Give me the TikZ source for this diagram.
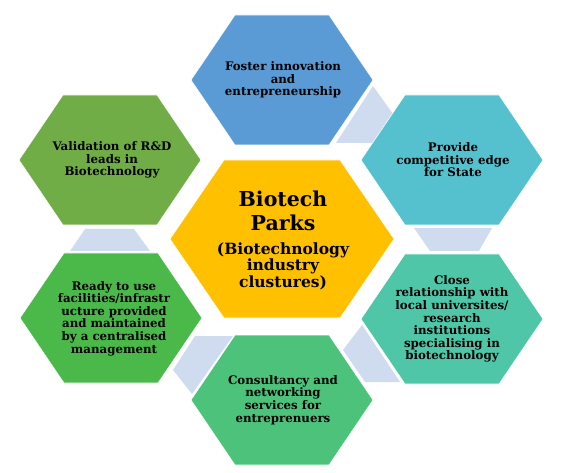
\documentclass[tikz,border=0pt]{standalone}
\usepackage{fontspec}
\setmainfont{DejaVu Serif}
\definecolor{cFoster}{HTML}{5B9BD5}
\definecolor{cProvide}{HTML}{56C1CE}
\definecolor{cClose}{HTML}{4FC6A7}
\definecolor{cConsult}{HTML}{4CC27A}
\definecolor{cReady}{HTML}{4AB94A}
\definecolor{cValid}{HTML}{70AD47}
\definecolor{cCenter}{HTML}{FFC000}
\definecolor{cLink}{HTML}{CFDBEE}
\begin{document}
\begin{tikzpicture}[x=1pt,y=-1pt,
  linkfill/.style={fill=cLink},
  hextext/.style={align=center,font=\fontsize{11.8}{12.6}\selectfont\bfseries,inner sep=0pt},
  titletext/.style={align=center,font=\fontsize{20.5}{24}\selectfont\bfseries,inner sep=0pt},
  subtext/.style={align=center,font=\fontsize{15.5}{16.5}\selectfont\bfseries,inner sep=0pt}]
\useasboundingbox (0,0) rectangle (565,473);
% outer hexagon: half width 91, half top edge 47, half height 65
\newcommand{\outerhex}[3]{%
  \fill[#3] (#1-91,#2) -- (#1-47,#2-65) -- (#1+47,#2-65) -- (#1+91,#2) -- (#1+47,#2+65) -- (#1-47,#2+65) -- cycle;
  \draw[white,line width=0.6pt] (#1-91,#2) -- (#1-47,#2-65) -- (#1+47,#2-65) -- (#1+91,#2) -- (#1+47,#2+65) -- (#1-47,#2+65) -- cycle;}
% connectors
\fill[linkfill] (373,86) -- (393,114) -- (373,143) -- (336,143) -- cycle;
\fill[linkfill] (414,228) -- (492,228) -- (479,251) -- (430,251) -- cycle;
\fill[linkfill] (85,229) -- (134,229) -- (150,251) -- (70,251) -- cycle;
\fill[linkfill] (362,325) -- (400,382) -- (365,382) -- (343,350) -- cycle;
\fill[linkfill] (195,336) -- (233,336) -- (192,394) -- (173,370) -- cycle;
% hexagons
\outerhex{282}{80}{cFoster}
\outerhex{452}{160}{cProvide}
\outerhex{110}{160}{cValid}
\outerhex{111}{318}{cReady}
\outerhex{452}{319}{cClose}
\outerhex{282}{400}{cConsult}
\fill[cCenter] (170,239) -- (224,160) -- (340,160) -- (394,239) -- (340,318) -- (224,318) -- cycle;
\draw[white,line width=0.6pt] (170,239) -- (224,160) -- (340,160) -- (394,239) -- (340,318) -- (224,318) -- cycle;
% texts
\node[hextext] (foster) at (283,80) {Foster innovation\\and\\entrepreneurship};
\node[hextext] (provide) at (453,160) {Provide\\competitive edge\\for State};
\node[hextext] (valid) at (112,160) {Validation of R\&D\\leads in\\Biotechnology};
\node[hextext] (ready) at (114,318.5) {Ready to use\\facilities/infrastr\\ucture provided\\and maintained\\by a centralised\\management};
\node[hextext] (close) at (452,319) {Close\\relationship with\\local universites/\\research\\institutions\\specialising in\\biotechnology};
\node[hextext] (consult) at (283,400) {Consultancy and\\networking\\services for\\entreprenuers};
\node[titletext] (title) at (283,211) {Biotech\\Parks};
\node[subtext] (sub) at (283,266) {(Biotechnology\\industry\\clustures)};
\end{tikzpicture}
\end{document}
